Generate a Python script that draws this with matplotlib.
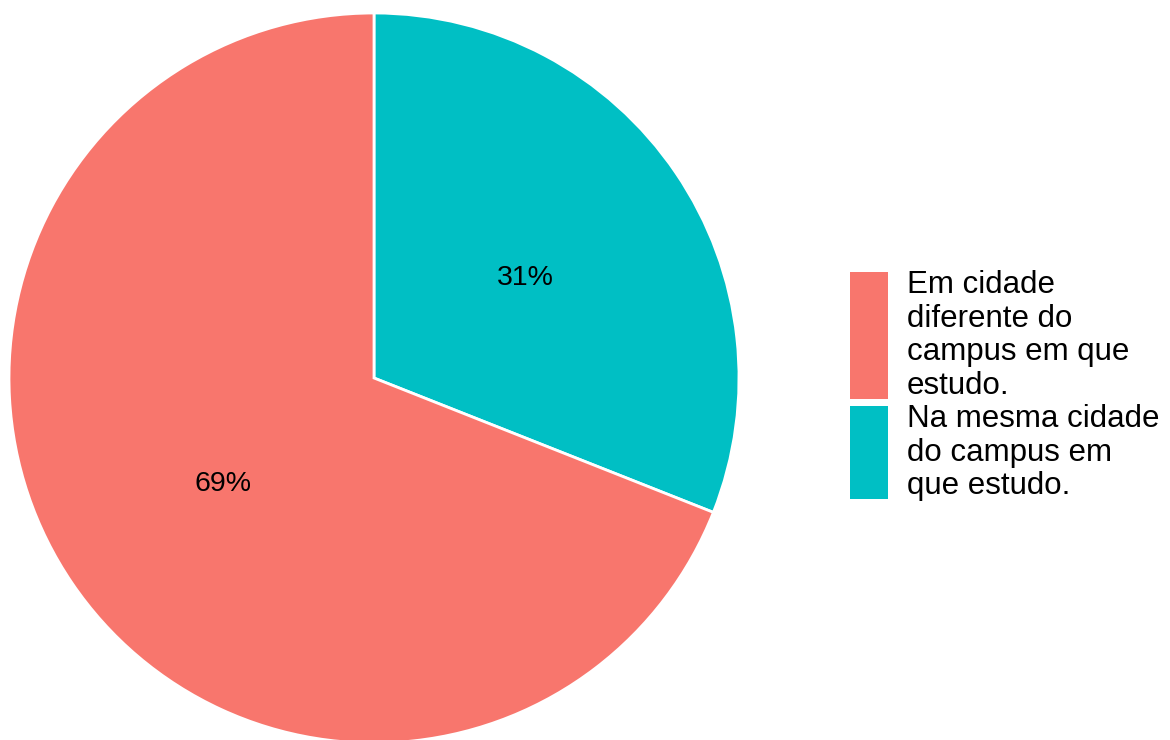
import matplotlib
matplotlib.use("Agg")
import matplotlib.pyplot as plt
from matplotlib.patches import Rectangle

plt.rcParams['font.family'] = ['Liberation Sans', 'DejaVu Sans']

# data
categories = ['Na mesma cidade\ndo campus em\nque estudo.',
              'Em cidade\ndiferente do\ncampus em que\nestudo.']
shares = [31, 69]
colors = ['#00BFC4', '#F8766D']

# legend follows ggplot order (alphabetical)
legend_labels = [categories[1], categories[0]]
legend_colors = [colors[1], colors[0]]

W, H = 1170, 740
fig = plt.figure(figsize=(W / 100, H / 100), dpi=100)

# pie: centre (374, 378) px, radius 365 px
cx, cy, r = 374, 378, 365
ax = fig.add_axes([(cx - r) / W, (H - cy - r) / H, 2 * r / W, 2 * r / H])
wedges, texts, autotexts = ax.pie(
    shares, colors=colors, startangle=90, counterclock=False,
    radius=1, autopct='%d%%', pctdistance=0.5,
    wedgeprops=dict(edgecolor='white', linewidth=2),
    textprops=dict(fontsize=20.5, color='black'))
for t in autotexts:
    x, y = t.get_position()
    t.set_position((x, y - 0.008))
ax.set_xlim(-1, 1)
ax.set_ylim(-1, 1)
ax.set_aspect('equal')
ax.axis('off')

# legend drawn by hand so key heights follow text height, ggplot style
key_boxes = [(272, 399), (406, 499)]
for lab, col, (top, bot) in zip(legend_labels, legend_colors, key_boxes):
    fig.patches.append(Rectangle((850 / W, 1 - bot / H), 38 / W, (bot - top) / H,
                                 transform=fig.transFigure, facecolor=col,
                                 edgecolor='none'))
    fig.text(907 / W, 1 - (top + bot) / 2 / H, lab, fontsize=22.5,
             va='center', ha='left', linespacing=1.15)

fig.savefig('out.png', dpi=100)
